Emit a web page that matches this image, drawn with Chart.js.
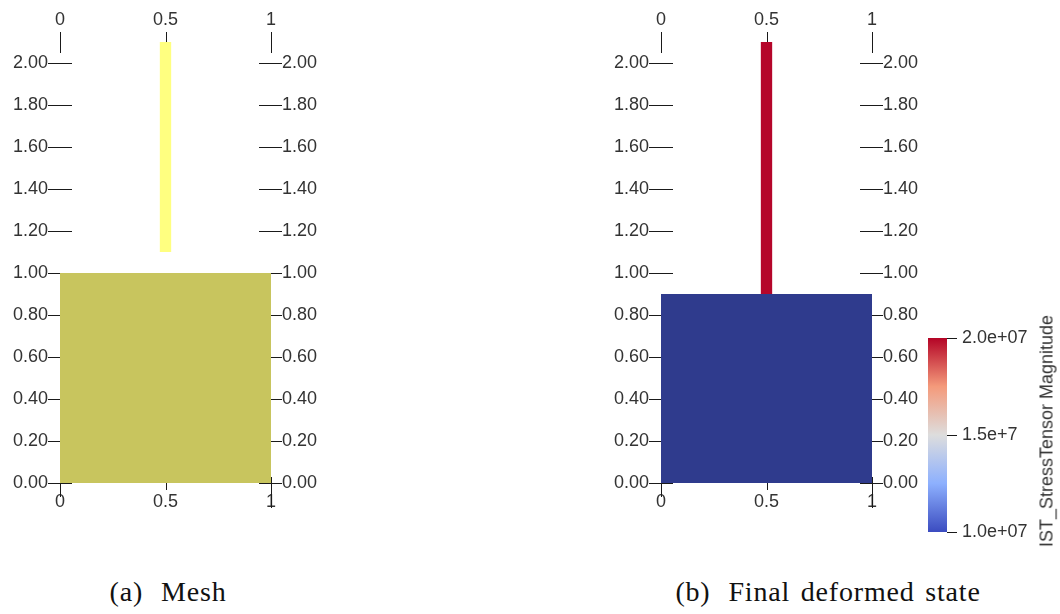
<!DOCTYPE html>
<html>
<head>
<meta charset="utf-8">
<script src="https://cdn.jsdelivr.net/npm/chart.js@4/dist/chart.umd.min.js"></script>
<style>
  html, body { margin: 0; padding: 0; background: #ffffff; }
  body { width: 1060px; height: 614px; position: relative; overflow: hidden; }
  canvas { position: absolute; display: block; }
  #meshChart { left: 0px; top: 0px; }
  #defChart { left: 601px; top: 0px; }
  #barChart { left: 900px; top: 300px; }
  .cbtitle {
    position: absolute; left: 1047px; top: 431px;
    transform: translate(-50%, -50%) rotate(-90deg);
    font-family: "Liberation Sans", Arial, sans-serif; font-size: 18px; color: #333;
    white-space: nowrap;
  }
  .caption {
    position: absolute; width: 400px; text-align: center; top: 576px;
    font-family: "Liberation Serif", "Times New Roman", serif; font-size: 28px; color: #111;
    letter-spacing: 0.8px; word-spacing: 3px;
    white-space: nowrap;
  }
  .gap { display: inline-block; width: 18px; }
</style>
</head>
<body>
<canvas id="meshChart" width="330" height="530"></canvas>
<canvas id="defChart" width="324" height="530"></canvas>
<canvas id="barChart" width="150" height="260"></canvas>
<div class="cbtitle" id="cbTitle"></div>
<div class="caption" id="capA" style="left:-32px"></div>
<div class="caption" id="capB" style="left:628px"></div>
<script>
// ---------- data ----------
const xTicks = [0, 0.5, 1];
const xTickLabels = ['0', '0.5', '1'];
const yTicks = [0, 0.2, 0.4, 0.6, 0.8, 1.0, 1.2, 1.4, 1.6, 1.8, 2.0];
const yTickLabels = ['0.00', '0.20', '0.40', '0.60', '0.80', '1.00', '1.20', '1.40', '1.60', '1.80', '2.00'];
const xRange = [0, 1];
const yRange = [0, 2.1];

// (a) Mesh: base block and thin pillar (x extents, [bottom, top])
const meshBlockX = [0, 1];
const meshBlockY = [0, 1.0];
const meshPillarX = [0.472, 0.528];
const meshPillarY = [1.1, 2.1];

// (b) Final deformed state
const defBlockX = [0, 1];
const defBlockY = [0, 0.9];
const defPillarX = [0.472, 0.528];
const defPillarY = [0.9, 2.1];

// colour bar
const stressRange = [1.0e7, 2.0e7];
const stressTicks = [1.0e7, 1.5e7, 2.0e7];
const stressTickLabels = ['1.0e+07', '1.5e+7', '2.0e+07'];
const stressTitle = 'IST_StressTensor Magnitude';

const captionA = ['(a)', 'Mesh'];
const captionB = ['(b)', 'Final deformed state'];

// ---------- styles ----------
const COLORS = {
  meshBlock: '#c8c55e',
  meshPillar: '#ffff80',
  defBlock: '#2f3b8d',
  defPillar: '#b5062a',
  text: '#333333',
  tick: '#1a1a1a'
};
const coolwarm = [
  [0.0, '#3b4cc0'],
  [0.25, '#8db0fe'],
  [0.5, '#dddddd'],
  [0.75, '#f49a7b'],
  [1.0, '#b40426']
];
const tickFont = { family: '"Liberation Sans", Arial, sans-serif', size: 18 };
const bottomTickSpan = [[0, 14], [0, 7], [-6, 25]];

Chart.defaults.font.family = tickFont.family;

function rect(xs, ys, color) {
  return {
    data: xs.map(x => ({ x: x, y: ys[1] })),
    fill: { value: ys[0] },
    backgroundColor: color,
    borderColor: color,
    borderWidth: 0,
    pointRadius: 0,
    tension: 0
  };
}

const cubeTicks = {
  id: 'cubeTicks',
  beforeDatasetsDraw(chart) {
    const { ctx } = chart;
    const x = chart.scales.x, y = chart.scales.y;
    const xl = x.getPixelForValue(xRange[0]);
    const xr = x.getPixelForValue(xRange[1]);
    ctx.save();
    ctx.strokeStyle = COLORS.tick;
    ctx.lineWidth = 1;
    ctx.beginPath();
    yTicks.forEach(v => {
      const py = Math.round(y.getPixelForValue(v)) + 0.5;
      ctx.moveTo(xl - 12, py); ctx.lineTo(xl + 12, py);
      ctx.moveTo(xr - 12, py); ctx.lineTo(xr + 11, py);
    });
    const yTop = y.getPixelForValue(yTicks[yTicks.length - 1]);
    const yBot = y.getPixelForValue(yTicks[0]);
    xTicks.forEach((v, i) => {
      const px = Math.round(x.getPixelForValue(v)) + 0.5;
      ctx.moveTo(px, yTop - 31); ctx.lineTo(px, yTop - 10);
      ctx.moveTo(px, yBot + bottomTickSpan[i][0]); ctx.lineTo(px, yBot + bottomTickSpan[i][1]);
    });
    ctx.stroke();
    ctx.restore();
  }
};

function hAxis(position, pad, size) {
  return {
    type: 'linear', position: position, min: xRange[0], max: xRange[1],
    afterBuildTicks: s => { s.ticks = xTicks.map(v => ({ value: v })); },
    afterFit: s => { s.height = size; },
    grid: { display: false, drawTicks: false },
    border: { display: false },
    ticks: {
      padding: pad, maxRotation: 0, autoSkip: false, font: tickFont, color: COLORS.text,
      callback: (v, i) => xTickLabels[i]
    }
  };
}
function vAxis(position, pad, size) {
  return {
    type: 'linear', position: position, min: yRange[0], max: yRange[1],
    afterBuildTicks: s => { s.ticks = yTicks.map(v => ({ value: v })); },
    afterFit: s => { s.width = size; },
    grid: { display: false, drawTicks: false },
    border: { display: false },
    ticks: {
      padding: pad, autoSkip: false, font: tickFont, color: COLORS.text,
      callback: (v, i) => yTickLabels[i]
    }
  };
}

function panelChart(id, canvasWidth, datasets) {
  return new Chart(document.getElementById(id), {
    type: 'line',
    data: { datasets: datasets },
    options: {
      responsive: false, animation: false, events: [],
      layout: { padding: 0 },
      plugins: { legend: { display: false }, tooltip: { enabled: false } },
      scales: {
        x: hAxis('bottom', 8, 47),
        x2: hAxis('top', 11, 42),
        y: vAxis('left', 12, 60),
        y2: vAxis('right', 11, canvasWidth - 60 - 211)
      }
    },
    plugins: [cubeTicks]
  });
}

panelChart('meshChart', 330, [
  rect(meshBlockX, meshBlockY, COLORS.meshBlock),
  rect(meshPillarX, meshPillarY, COLORS.meshPillar)
]);
panelChart('defChart', 324, [
  rect(defBlockX, defBlockY, COLORS.defBlock),
  rect(defPillarX, defPillarY, COLORS.defPillar)
]);

new Chart(document.getElementById('barChart'), {
  type: 'bar',
  data: {
    labels: [''],
    datasets: [{
      data: [stressRange],
      barPercentage: 1, categoryPercentage: 1, borderWidth: 0,
      backgroundColor: c => {
        const ch = c.chart;
        if (!ch.chartArea) return coolwarm[2][1];
        const ys = ch.scales.y;
        const g = ch.ctx.createLinearGradient(0, ys.getPixelForValue(stressRange[0]), 0, ys.getPixelForValue(stressRange[1]));
        coolwarm.forEach(([t, col]) => g.addColorStop(t, col));
        return g;
      }
    }]
  },
  options: {
    responsive: false, animation: false, events: [],
    layout: { padding: { left: 28, top: 38, bottom: 28, right: 0 } },
    plugins: { legend: { display: false }, tooltip: { enabled: false } },
    scales: {
      x: { display: false },
      y: {
        position: 'right', min: stressRange[0], max: stressRange[1],
        afterBuildTicks: s => { s.ticks = stressTicks.map(v => ({ value: v })); },
        afterFit: s => { s.width = 103; },
        grid: { drawOnChartArea: false, drawTicks: true, tickLength: 10, color: COLORS.tick },
        border: { display: false },
        ticks: { padding: 5, font: tickFont, color: COLORS.text, callback: (v, i) => stressTickLabels[i] }
      }
    }
  }
});

document.getElementById('cbTitle').textContent = stressTitle;
function setCaption(id, parts) {
  const el = document.getElementById(id);
  el.appendChild(document.createTextNode(parts[0]));
  const gap = document.createElement('span'); gap.className = 'gap';
  el.appendChild(gap);
  el.appendChild(document.createTextNode(parts[1]));
}
setCaption('capA', captionA);
setCaption('capB', captionB);
</script>
</body>
</html>
